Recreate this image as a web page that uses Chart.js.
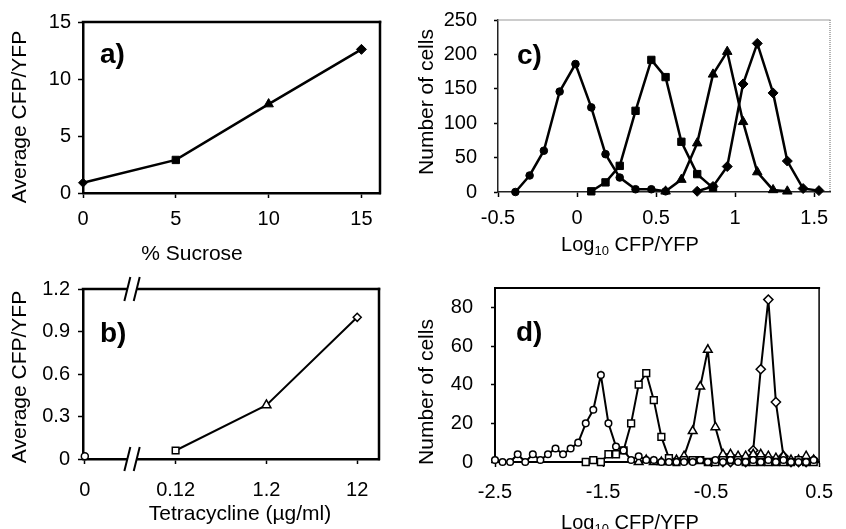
<!DOCTYPE html>
<html>
<head>
<meta charset="utf-8">
<title>CFP/YFP</title>
<script src="https://cdn.jsdelivr.net/npm/chart.js@4.4.0/dist/chart.umd.min.js"></script>
<style>
    html, body { margin: 0; padding: 0; background: #fff; }
    #wrap { position: relative; width: 846px; height: 529px; overflow: hidden; }
    #wrap canvas { position: absolute; left: 0; top: 0; }
</style>
</head>
<body>
<div id="wrap">
    <canvas id="chartA" width="846" height="529"></canvas>
    <canvas id="chartB" width="846" height="529"></canvas>
    <canvas id="chartC" width="846" height="529"></canvas>
    <canvas id="chartD" width="846" height="529"></canvas>
</div>
<script>
// ---- a) average ratio vs sucrose ----
const sucrose = [0, 5, 10, 15];
const avgSucrose = [0.9, 2.9, 7.8, 12.6];
const sucroseMarks = ['rectRot', 'rect', 'triangle', 'rectRot'];

// ---- b) average ratio vs tetracycline (broken axis, one slot per dose) ----
const tetraLabels = ['0', '0.12', '1.2', '12'];
const avgTetra = [0.02, 0.06, 0.38, 1.0];
const tetraMarks = ['circle', 'rect', 'triangle', 'rectRot'];

// ---- c) histograms, log10 bins ----
const binsC = [-0.39, -0.3, -0.21, -0.11, -0.01, 0.09, 0.18, 0.27, 0.37, 0.47, 0.56,
               0.66, 0.76, 0.86, 0.95, 1.05, 1.14, 1.24, 1.33, 1.43, 1.53];
const cellsC1 = [0, 24, 60, 146, 186, 123, 55, 21, 4, 4, 1,
                 null, null, null, null, null, null, null, null, null, null];
const cellsC2 = [null, null, null, null, null, 1, 14, 38, 118, 192, 167,
                 73, 26, 6, null, null, null, null, null, null, null];
const cellsC3 = [null, null, null, null, null, null, null, null, null, null, 1,
                 18, 71, 171, 204, 102, 29, 3, 1, null, null];
const cellsC4 = [null, null, null, null, null, null, null, null, null, null, null,
                 null, 1, 8, 37, 157, 216, 144, 45, 5, 2];

// ---- d) histograms, log10 bins ----
const binsD = [-2.5, -2.43, -2.36, -2.29, -2.22, -2.15, -2.08, -2.01, -1.94, -1.87,
               -1.8, -1.73, -1.66, -1.59, -1.52, -1.45, -1.38, -1.31, -1.24, -1.17,
               -1.1, -1.03, -0.96, -0.89, -0.82, -0.75, -0.67, -0.6, -0.53, -0.46,
               -0.39, -0.32, -0.25, -0.18, -0.11, -0.04, 0.03, 0.1, 0.17, 0.24,
               0.31, 0.38, 0.45];
const cellsD1 = [1, 0, 0, 4, 0, 4, 1, 4, 7, 4,
                 7, 10, 20, 27, 45, 20, 8, 6, 1, 3,
                 1, 1, 0, 0, 0, 0, 0, 1, 0, 1,
                 0, 1, 0, 0, 1, 0, 1, 0, 1, 0,
                 0, 0, 1];
const cellsD2 = [null, null, null, null, null, null, null, null, null, null,
                 null, null, 0, 1, 0, 4, 4, 6, 20, 40,
                 46, 32, 13, 2, 0, 1, 1, 1, 0, 0,
                 1, 1, 1, 0, 0, 0, 0, 0, 0, 0,
                 1, 0, 0];
const cellsD3 = [null, null, null, null, null, null, null, null, null, null,
                 null, null, null, null, null, null, null, null, null, 0,
                 1, 0, 0, 0, 1, 3, 16, 39, 58, 18,
                 4, 4, 3, 3, 4, 4, 3, 2, 3, 1,
                 1, 3, 1];
const cellsD4 = [null, null, null, null, null, null, null, null, null, null,
                 null, null, null, null, null, null, null, null, null, null,
                 null, null, null, null, null, null, null, null, null, null,
                 0, 0, 1, 0, 6, 48, 84, 31, 3, 0,
                 0, 0, 1];

const FONT = "'Liberation Sans', Arial, sans-serif";
Chart.defaults.font.family = FONT;
Chart.defaults.font.size = 20;
Chart.defaults.color = '#000';

// draw a text, optionally with a subscript part: text = [[str, isSub], ...]
function drawText(ctx, t) {
    const parts = Array.isArray(t.text) ? t.text : [[t.text, false]];
    const size = t.size || 21;
    const fontFor = sub => (t.bold ? 'bold ' : '') + (sub ? Math.round(size * 0.65) : size) + 'px ' + FONT;
    let total = 0;
    parts.forEach(([s, sub]) => { ctx.font = fontFor(sub); total += ctx.measureText(s).width; });
    ctx.save();
    ctx.translate(t.x, t.y);
    if (t.rotate) ctx.rotate(t.rotate * Math.PI / 180);
    ctx.fillStyle = '#000';
    ctx.textBaseline = 'middle';
    ctx.textAlign = 'left';
    let x = t.align === 'left' ? 0 : -total / 2;
    parts.forEach(([s, sub]) => {
        ctx.font = fontFor(sub);
        ctx.fillText(s, x, sub ? size * 0.32 : 0);
        x += ctx.measureText(s).width;
    });
    ctx.restore();
}

// frame edges, axis break marks and free texts
const panelDecor = {
    id: 'panelDecor',
    afterDraw(chart, args, opts) {
        const { ctx, chartArea: area } = chart;
        ctx.save();
        (opts.edges || []).forEach(e => {
            ctx.beginPath();
            ctx.strokeStyle = e.color;
            ctx.lineWidth = e.width;
            ctx.lineCap = e.dash ? 'butt' : 'square';
            ctx.setLineDash(e.dash || []);
            if (e.side === 'top') {
                ctx.moveTo(area.left, area.top);
                ctx.lineTo(area.right, area.top);
            } else {
                ctx.moveTo(area.right, area.top);
                ctx.lineTo(area.right, area.bottom);
            }
            ctx.stroke();
        });
        ctx.setLineDash([]);
        if (opts.breakAt !== undefined) {
            const bx = chart.scales.x.getPixelForValue(opts.breakAt);
            [area.top, area.bottom].forEach(by => {
                ctx.fillStyle = '#fff';
                ctx.fillRect(bx - 5, by - 3, 10, 6);
                ctx.strokeStyle = '#000';
                ctx.lineWidth = 2;
                ctx.lineCap = 'butt';
                [-4.7, 4.7].forEach(dx => {
                    ctx.beginPath();
                    ctx.moveTo(bx + dx - 3, by + 12);
                    ctx.lineTo(bx + dx + 3, by - 12);
                    ctx.stroke();
                });
            });
        }
        (opts.texts || []).forEach(t => drawText(ctx, t));
        ctx.restore();
    }
};
Chart.register(panelDecor);

function axis(o) {
    return {
        type: 'linear',
        min: o.min,
        max: o.max,
        afterFit: s => {
            if (s.isHorizontal()) {
                s.height = 40;
            } else {
                // fixed width, and no extra room reserved above/below for the labels
                s.width = 60;
                s.paddingTop = 0;
                s.paddingBottom = 0;
            }
        },
        border: { display: true, color: o.color || '#000', width: o.border },
        grid: { drawOnChartArea: false, drawTicks: true, tickLength: o.tl || 5, color: '#000', tickWidth: 1.5 },
        ticks: {
            stepSize: o.step, padding: o.pad, maxRotation: 0, autoSkip: false,
            includeBounds: false, color: '#000', font: { size: 20 },
            callback: o.labels ? (v => o.labels[v]) : undefined
        }
    };
}

function series(xs, ys, marks, look) {
    const pts = [];
    ys.forEach((y, i) => { if (y !== null) pts.push({ x: xs[i], y: y }); });
    return Object.assign({
        data: pts,
        pointStyle: marks,
        borderColor: '#000',
        pointBorderColor: '#000',
        tension: 0,
        clip: false
    }, look);
}

const filled = { pointBackgroundColor: '#000', pointBorderWidth: 1, borderWidth: 2.5 };
const open = { pointBackgroundColor: '#fff', pointBorderWidth: 1.5, borderWidth: 2 };

function makeChart(id, datasets, scales, padding, decor) {
    return new Chart(document.getElementById(id), {
        type: 'line',
        data: { datasets: datasets },
        options: {
            responsive: false,
            animation: false,
            events: [],
            layout: { padding: padding },
            scales: scales,
            plugins: { legend: { display: false }, tooltip: { enabled: false }, panelDecor: decor }
        }
    });
}

// a)
makeChart('chartA',
    [series(sucrose, avgSucrose, sucroseMarks, Object.assign({}, filled, { pointRadius: [4.5, 5.2, 5.5, 5] }))],
    {
        x: axis({ min: 0, max: 16, step: 5, pad: 9, border: 2.5 }),
        y: axis({ min: 0, max: 15, step: 5, pad: 7, border: 2.5 })
    },
    { left: 23, top: 22, right: 466, bottom: 296 },
    {
        edges: [{ side: 'top', color: '#000', width: 2.5 }, { side: 'right', color: '#000', width: 2.5 }],
        texts: [
            { text: 'a)', x: 100, y: 55, size: 28, bold: true, align: 'left' },
            { text: 'Average CFP/YFP', x: 20, y: 117, rotate: -90 },
            { text: '% Sucrose', x: 192, y: 254 }
        ]
    });

// b)
const tetraSet = series(tetraLabels.map((l, i) => i), avgTetra, tetraMarks,
    Object.assign({}, open, { pointRadius: [3.5, 4.7, 5.2, 4] }));
tetraSet.segment = { borderColor: ctx => ctx.p0DataIndex === 0 ? 'rgba(0,0,0,0)' : '#000' };
makeChart('chartB',
    [tetraSet],
    {
        x: axis({ min: -0.02, max: 3.24, step: 1, pad: 14, border: 2.5, labels: tetraLabels }),
        y: axis({ min: 0, max: 1.2, step: 0.3, pad: 8, border: 2.5 })
    },
    { left: 23, top: 289, right: 467, bottom: 30 },
    {
        breakAt: 0.52,
        edges: [{ side: 'top', color: '#000', width: 2.5 }, { side: 'right', color: '#000', width: 2.5 }],
        texts: [
            { text: 'b)', x: 100, y: 334, size: 28, bold: true, align: 'left' },
            { text: 'Average CFP/YFP', x: 20, y: 377, rotate: -90 },
            { text: 'Tetracycline (\u00b5g/ml)', x: 240, y: 514 }
        ]
    });

// c)
makeChart('chartC',
    [
        series(binsC, cellsC1, 'circle', Object.assign({}, filled, { pointRadius: 3.8 })),
        series(binsC, cellsC2, 'rect', Object.assign({}, filled, { pointRadius: 5.2 })),
        series(binsC, cellsC3, 'triangle', Object.assign({}, filled, { pointRadius: 5.5 })),
        series(binsC, cellsC4, 'rectRot', Object.assign({}, filled, { pointRadius: 5 }))
    ],
    {
        x: axis({ min: -0.5, max: 1.6, step: 0.5, pad: 9, border: 1.5, color: '#222' }),
        y: axis({ min: 0, max: 250, step: 50, pad: 17, border: 1.5, tl: 4, color: '#222' })
    },
    { left: 438, top: 20, right: 16, bottom: 297 },
    {
        edges: [
            { side: 'top', color: '#999', width: 1 },
            { side: 'right', color: '#999', width: 1.5, dash: [1, 1] }
        ],
        texts: [
            { text: 'c)', x: 517, y: 56, size: 28, bold: true, align: 'left' },
            { text: 'Number of cells', x: 427, y: 102, rotate: -90 },
            { text: [['Log', false], ['10', true], [' CFP/YFP', false]], x: 630, y: 245, size: 20 }
        ]
    });

// d)
makeChart('chartD',
    [
        series(binsD, cellsD1, 'circle', Object.assign({}, open, { pointRadius: 3.3 })),
        series(binsD, cellsD2, 'rect', Object.assign({}, open, { pointRadius: 4.8 })),
        series(binsD, cellsD3, 'triangle', Object.assign({}, open, { pointRadius: 5 })),
        series(binsD, cellsD4, 'rectRot', Object.assign({}, open, { pointRadius: 4.6 }))
    ],
    {
        x: axis({ min: -2.5, max: 0.5, step: 1, pad: 13, border: 2 }),
        y: axis({ min: 0, max: 90, step: 20, pad: 18, border: 2, tl: 4 })
    },
    { left: 435, top: 288, right: 15, bottom: 27 },
    {
        edges: [{ side: 'top', color: '#000', width: 2 }, { side: 'right', color: '#000', width: 1.5 }],
        texts: [
            { text: 'd)', x: 516, y: 333, size: 28, bold: true, align: 'left' },
            { text: 'Number of cells', x: 427, y: 392, rotate: -90 },
            { text: [['Log', false], ['10', true], [' CFP/YFP', false]], x: 630, y: 523, size: 20 }
        ]
    });
</script>
</body>
</html>
